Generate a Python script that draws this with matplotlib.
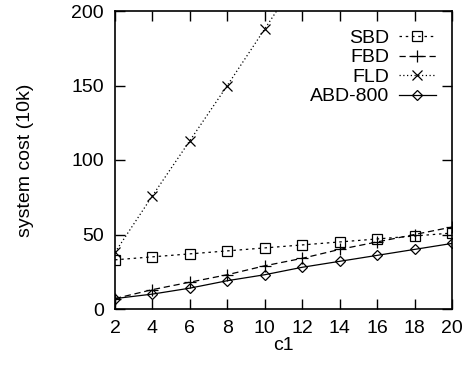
import matplotlib
matplotlib.use("Agg")
import matplotlib.pyplot as plt

plt.rcParams['font.family'] = ['Liberation Sans', 'DejaVu Sans']

c1 = [2, 4, 6, 8, 10, 12, 14, 16, 18, 20]
sbd = [33, 35, 37, 39, 41, 43, 45, 47, 49, 51]
fbd = [7, 13, 18, 23, 29, 34, 40, 45, 50, 55]
fld = [38, 76, 113, 150, 188, 226, 263, 301, 338, 376]
abd = [7, 10, 14, 19, 23, 28, 32, 36, 40, 44]

fig = plt.figure(figsize=(4.63, 3.65), dpi=100)
ax = fig.add_axes([115 / 463, 56 / 365, 337 / 463, 298 / 365])

ax.plot(c1, sbd, color='black', lw=0.9, dashes=(2, 3), marker='s', ms=6.5,
        mfc='none', mec='black', mew=0.9, label='SBD')
ax.plot(c1, fbd, color='black', lw=0.9, dashes=(5, 3), marker='+', ms=8,
        mew=0.9, label='FBD')
ax.plot(c1, fld, color='black', lw=0.9, dashes=(1, 2), marker='x', ms=7,
        mew=0.9, label='FLD')
ax.plot(c1, abd, color='black', lw=0.9, marker='D', ms=5.5, mfc='none',
        mec='black', mew=0.9, label='ABD-800')

ax.set_xlim(2, 20)
ax.set_ylim(0, 200)
ax.set_xticks(c1)
ax.set_yticks([0, 50, 100, 150, 200])
ax.tick_params(direction='in', top=True, right=True, length=7, width=1,
               labelsize=14, pad=8)
for s in ax.spines.values():
    s.set_linewidth(1.2)

ax.set_xlabel('c1', fontsize=14, labelpad=0)
ax.set_ylabel('system cost (10k)', fontsize=14, labelpad=27)

ax.legend(loc='upper right', frameon=False, markerfirst=False, fontsize=14,
          handlelength=1.9, handletextpad=0.5, labelspacing=0.1,
          borderaxespad=0.0, bbox_to_anchor=(0.975, 0.965))

fig.savefig('out.png', dpi=100)
